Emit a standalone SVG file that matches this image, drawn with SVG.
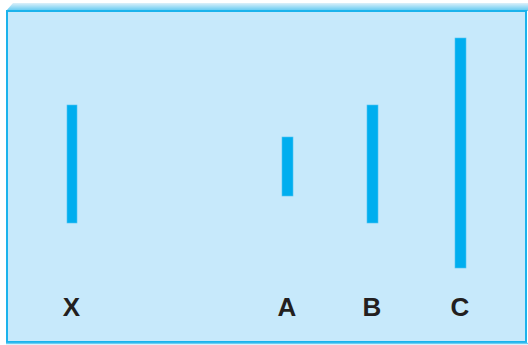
<svg xmlns="http://www.w3.org/2000/svg" width="528" height="345" viewBox="0 0 528 345">
<defs>
<linearGradient id="topband" x1="0" y1="0" x2="0" y2="1">
<stop offset="0" stop-color="#dcf0fa"/>
<stop offset="1" stop-color="#5cc8f1"/>
</linearGradient>
<style>
.bar{fill:#00aeef;stroke:#4fc3f2;stroke-width:0.6}
.lbl{font-family:"Liberation Sans",Arial,sans-serif;font-weight:bold;font-size:26px;fill:#231f20;text-anchor:middle}
</style>
</defs>
<g id="frame">
<polygon points="13,3 528,3 528,11 6,11" fill="url(#topband)"/>
<rect x="7" y="11" width="519" height="331" fill="#c7e9fb" stroke="#1bb3ec" stroke-width="2"/>
<line x1="6" y1="343.5" x2="528" y2="343.5" stroke="#6ccdf3" stroke-width="1.5"/>
</g>
<g id="X">
<rect class="bar" x="67" y="105" width="10" height="118"/>
<text class="lbl" x="71.5" y="316">X</text>
</g>
<g id="A">
<rect class="bar" x="282" y="137" width="11" height="59"/>
<text class="lbl" x="287" y="316">A</text>
</g>
<g id="B">
<rect class="bar" x="367" y="105" width="11" height="118"/>
<text class="lbl" x="372" y="316">B</text>
</g>
<g id="C">
<rect class="bar" x="455" y="38" width="11" height="230"/>
<text class="lbl" x="460" y="316">C</text>
</g>
<g id="connectors"/>
</svg>
